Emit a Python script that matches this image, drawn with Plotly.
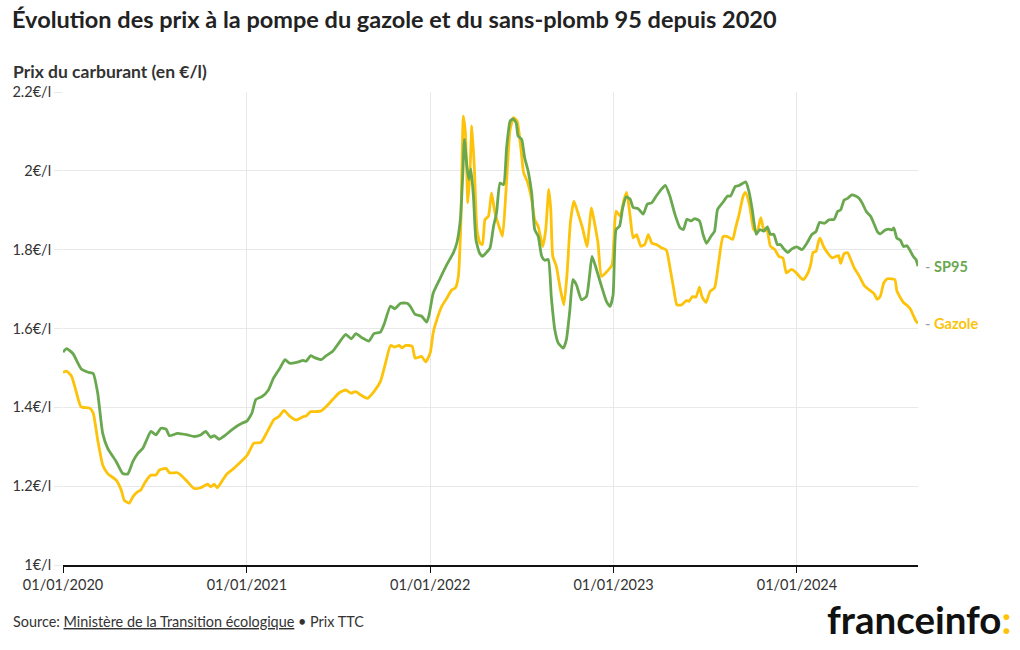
import plotly.graph_objects as go

# ---------------- data ----------------
sp95_dates = [
    "2020-01-01", "2020-01-08", "2020-01-21", "2020-02-06", "2020-02-20", "2020-03-01", "2020-03-10",
    "2020-03-20", "2020-03-30", "2020-04-16", "2020-04-29", "2020-05-09", "2020-05-19", "2020-05-29",
    "2020-06-08", "2020-06-14", "2020-06-24", "2020-07-04", "2020-07-14", "2020-07-24", "2020-07-31",
    "2020-08-16", "2020-09-05", "2020-09-18", "2020-10-01", "2020-10-11", "2020-10-21", "2020-10-28",
    "2020-11-07", "2020-11-20", "2020-12-04", "2020-12-23", "2021-01-01", "2021-01-11", "2021-01-19",
    "2021-01-31", "2021-02-13", "2021-02-23", "2021-03-08", "2021-03-18", "2021-03-27", "2021-04-10",
    "2021-04-23", "2021-04-29", "2021-05-08", "2021-05-16", "2021-05-29", "2021-06-08", "2021-06-21",
    "2021-07-04", "2021-07-17", "2021-07-28", "2021-08-06", "2021-08-19", "2021-09-01", "2021-09-11",
    "2021-09-24", "2021-10-01", "2021-10-14", "2021-10-22", "2021-11-03", "2021-11-16", "2021-11-22",
    "2021-12-02", "2021-12-15", "2021-12-25", "2021-12-30", "2022-01-07", "2022-01-21", "2022-02-03",
    "2022-02-16", "2022-02-23", "2022-03-02", "2022-03-07", "2022-03-10", "2022-03-15", "2022-03-19",
    "2022-03-23", "2022-03-28", "2022-04-02", "2022-04-09", "2022-04-15", "2022-04-23", "2022-04-30",
    "2022-05-07", "2022-05-13", "2022-05-20", "2022-05-27", "2022-06-02", "2022-06-09", "2022-06-15",
    "2022-06-21", "2022-06-25", "2022-07-02", "2022-07-08", "2022-07-15", "2022-07-22", "2022-07-28",
    "2022-08-04", "2022-08-11", "2022-08-17", "2022-08-24", "2022-08-30", "2022-09-06", "2022-09-13",
    "2022-09-23", "2022-09-29", "2022-10-06", "2022-10-12", "2022-10-19", "2022-10-29", "2022-11-08",
    "2022-11-14", "2022-11-19", "2022-11-26", "2022-12-08", "2022-12-18", "2022-12-25", "2022-12-31",
    "2023-01-06", "2023-01-13", "2023-01-19", "2023-01-26", "2023-02-03", "2023-02-09", "2023-02-19",
    "2023-03-01", "2023-03-09", "2023-03-18", "2023-03-27", "2023-04-06", "2023-04-14", "2023-04-23",
    "2023-05-03", "2023-05-13", "2023-05-20", "2023-05-27", "2023-06-05", "2023-06-11", "2023-06-21",
    "2023-06-28", "2023-07-05", "2023-07-14", "2023-07-21", "2023-07-27", "2023-08-06", "2023-08-16",
    "2023-08-22", "2023-08-31", "2023-09-08", "2023-09-21", "2023-09-28", "2023-10-04", "2023-10-12",
    "2023-10-19", "2023-10-27", "2023-11-03", "2023-11-09", "2023-11-16", "2023-11-23", "2023-11-29",
    "2023-12-06", "2023-12-14", "2023-12-22", "2024-01-01", "2024-01-11", "2024-01-21", "2024-01-31",
    "2024-02-08", "2024-02-15", "2024-02-25", "2024-03-05", "2024-03-15", "2024-03-22", "2024-03-28",
    "2024-04-04", "2024-04-11", "2024-04-19", "2024-04-27", "2024-05-04", "2024-05-10", "2024-05-18",
    "2024-05-27", "2024-06-02", "2024-06-09", "2024-06-15", "2024-06-24", "2024-07-02", "2024-07-08",
    "2024-07-12", "2024-07-18", "2024-07-25", "2024-07-31", "2024-08-07", "2024-08-14", "2024-08-20",
    "2024-08-25", "2024-08-29",
]
sp95_values = [
    1.540, 1.549, 1.536, 1.498, 1.489, 1.486, 1.437,
    1.334, 1.296, 1.262, 1.232, 1.231, 1.262, 1.283,
    1.296, 1.313, 1.339, 1.330, 1.347, 1.345, 1.328,
    1.334, 1.330, 1.326, 1.330, 1.339, 1.324, 1.328,
    1.319, 1.330, 1.345, 1.360, 1.365, 1.385, 1.420,
    1.427, 1.444, 1.474, 1.500, 1.521, 1.512, 1.514,
    1.519, 1.517, 1.531, 1.526, 1.521, 1.531, 1.542,
    1.565, 1.585, 1.574, 1.587, 1.576, 1.568, 1.587,
    1.591, 1.610, 1.657, 1.650, 1.664, 1.664, 1.657,
    1.636, 1.631, 1.616, 1.636, 1.690, 1.728, 1.762,
    1.792, 1.817, 1.876, 1.995, 2.080, 2.012, 1.978,
    2.005, 1.936, 1.825, 1.792, 1.783, 1.793, 1.804,
    1.859, 1.893, 1.969, 1.965, 2.058, 2.126, 2.132,
    2.122, 2.088, 2.080, 2.033, 1.999, 1.944, 1.851,
    1.834, 1.783, 1.773, 1.775, 1.681, 1.597, 1.563,
    1.550, 1.571, 1.647, 1.724, 1.711, 1.673, 1.681,
    1.732, 1.783, 1.758, 1.707, 1.668, 1.656, 1.685,
    1.851, 1.860, 1.905, 1.934, 1.928, 1.907, 1.904,
    1.890, 1.915, 1.919, 1.936, 1.953, 1.963, 1.936,
    1.890, 1.856, 1.851, 1.877, 1.873, 1.879, 1.873,
    1.839, 1.816, 1.834, 1.847, 1.902, 1.919, 1.936,
    1.936, 1.960, 1.963, 1.972, 1.945, 1.902, 1.839,
    1.851, 1.847, 1.858, 1.839, 1.839, 1.813, 1.813,
    1.802, 1.793, 1.802, 1.807, 1.800, 1.817, 1.839,
    1.846, 1.869, 1.867, 1.876, 1.877, 1.897, 1.901,
    1.926, 1.930, 1.939, 1.936, 1.930, 1.918, 1.897,
    1.884, 1.867, 1.846, 1.840, 1.849, 1.852, 1.850,
    1.855, 1.829, 1.824, 1.808, 1.810, 1.796, 1.782,
    1.775, 1.758,
]

gazole_dates = [
    "2020-01-01", "2020-01-08", "2020-01-18", "2020-01-27", "2020-02-06", "2020-02-23", "2020-03-01",
    "2020-03-10", "2020-03-20", "2020-03-30", "2020-04-16", "2020-04-26", "2020-05-02", "2020-05-12",
    "2020-05-19", "2020-05-29", "2020-06-04", "2020-06-11", "2020-06-24", "2020-07-04", "2020-07-11",
    "2020-07-24", "2020-07-31", "2020-08-16", "2020-08-26", "2020-09-05", "2020-09-18", "2020-10-01",
    "2020-10-15", "2020-10-21", "2020-10-28", "2020-11-03", "2020-11-13", "2020-11-23", "2020-12-06",
    "2020-12-20", "2021-01-02", "2021-01-15", "2021-01-29", "2021-02-11", "2021-02-24", "2021-03-06",
    "2021-03-16", "2021-03-27", "2021-04-10", "2021-04-23", "2021-04-29", "2021-05-08", "2021-05-16",
    "2021-05-29", "2021-06-08", "2021-06-21", "2021-07-04", "2021-07-17", "2021-07-27", "2021-08-06",
    "2021-08-16", "2021-08-29", "2021-09-11", "2021-09-24", "2021-10-04", "2021-10-14", "2021-10-22",
    "2021-10-31", "2021-11-06", "2021-11-13", "2021-11-26", "2021-12-02", "2021-12-15", "2021-12-23",
    "2022-01-01", "2022-01-07", "2022-01-14", "2022-01-24", "2022-02-03", "2022-02-13", "2022-02-20",
    "2022-02-26", "2022-03-03", "2022-03-08", "2022-03-12", "2022-03-17", "2022-03-21", "2022-03-25",
    "2022-03-30", "2022-04-04", "2022-04-10", "2022-04-15", "2022-04-20", "2022-04-27", "2022-05-03",
    "2022-05-10", "2022-05-20", "2022-05-25", "2022-06-01", "2022-06-09", "2022-06-16", "2022-06-23",
    "2022-06-30", "2022-07-06", "2022-07-13", "2022-07-22", "2022-07-28", "2022-08-04", "2022-08-13",
    "2022-08-19", "2022-08-25", "2022-08-29", "2022-09-02", "2022-09-09", "2022-09-16", "2022-09-24",
    "2022-09-30", "2022-10-07", "2022-10-14", "2022-10-22", "2022-11-01", "2022-11-09", "2022-11-18",
    "2022-11-24", "2022-12-01", "2022-12-08", "2022-12-19", "2022-12-29", "2023-01-02", "2023-01-06",
    "2023-01-14", "2023-01-22", "2023-01-27", "2023-02-03", "2023-02-09", "2023-02-16", "2023-02-24",
    "2023-03-04", "2023-03-11", "2023-03-18", "2023-03-27", "2023-04-06", "2023-04-16", "2023-04-24",
    "2023-05-01", "2023-05-07", "2023-05-16", "2023-05-26", "2023-05-31", "2023-06-07", "2023-06-14",
    "2023-06-21", "2023-06-26", "2023-07-04", "2023-07-12", "2023-07-21", "2023-07-29", "2023-08-07",
    "2023-08-16", "2023-08-26", "2023-09-01", "2023-09-08", "2023-09-16", "2023-09-21", "2023-09-29",
    "2023-10-07", "2023-10-14", "2023-10-21", "2023-10-27", "2023-11-03", "2023-11-09", "2023-11-18",
    "2023-11-26", "2023-12-04", "2023-12-11", "2023-12-21", "2023-12-31", "2024-01-08", "2024-01-14",
    "2024-01-23", "2024-01-29", "2024-02-02", "2024-02-08", "2024-02-13", "2024-02-16", "2024-02-23",
    "2024-03-02", "2024-03-11", "2024-03-19", "2024-03-24", "2024-03-28", "2024-04-04", "2024-04-11",
    "2024-04-17", "2024-04-24", "2024-05-04", "2024-05-14", "2024-05-23", "2024-06-02", "2024-06-09",
    "2024-06-15", "2024-06-22", "2024-06-29", "2024-07-07", "2024-07-14", "2024-07-18", "2024-07-25",
    "2024-07-31", "2024-08-07", "2024-08-14", "2024-08-20", "2024-08-25", "2024-08-29",
]
gazole_values = [
    1.488, 1.492, 1.479, 1.441, 1.401, 1.398, 1.386,
    1.318, 1.254, 1.232, 1.215, 1.190, 1.164, 1.157,
    1.173, 1.186, 1.190, 1.207, 1.228, 1.228, 1.241,
    1.245, 1.234, 1.234, 1.224, 1.211, 1.194, 1.196,
    1.205, 1.198, 1.205, 1.196, 1.214, 1.232, 1.245,
    1.262, 1.279, 1.309, 1.311, 1.339, 1.369, 1.377,
    1.392, 1.378, 1.368, 1.376, 1.378, 1.389, 1.389,
    1.391, 1.402, 1.420, 1.437, 1.444, 1.436, 1.440,
    1.431, 1.423, 1.440, 1.466, 1.512, 1.557, 1.553,
    1.557, 1.551, 1.557, 1.555, 1.525, 1.529, 1.515,
    1.538, 1.590, 1.622, 1.656, 1.677, 1.698, 1.703,
    1.732, 1.868, 2.139, 2.097, 1.919, 1.995, 2.114,
    2.003, 1.851, 1.817, 1.813, 1.876, 1.885, 1.944,
    1.893, 1.851, 1.834, 1.953, 2.105, 2.135, 2.126,
    2.063, 1.995, 1.974, 1.927, 1.876, 1.859, 1.808,
    1.851, 1.953, 1.902, 1.783, 1.758, 1.707, 1.660,
    1.732, 1.868, 1.923, 1.893, 1.851, 1.808, 1.906,
    1.868, 1.817, 1.732, 1.745, 1.762, 1.834, 1.898,
    1.885, 1.928, 1.945, 1.885, 1.830, 1.838, 1.809,
    1.813, 1.838, 1.817, 1.813, 1.805, 1.799, 1.749,
    1.698, 1.660, 1.660, 1.671, 1.669, 1.681, 1.680,
    1.705, 1.681, 1.666, 1.694, 1.703, 1.766, 1.833,
    1.833, 1.826, 1.856, 1.890, 1.936, 1.945, 1.911,
    1.851, 1.847, 1.881, 1.851, 1.847, 1.809, 1.800,
    1.783, 1.779, 1.741, 1.750, 1.741, 1.729, 1.724,
    1.741, 1.766, 1.793, 1.796, 1.821, 1.829, 1.808,
    1.792, 1.779, 1.783, 1.785, 1.765, 1.790, 1.792,
    1.775, 1.754, 1.733, 1.709, 1.699, 1.689, 1.674,
    1.682, 1.716, 1.726, 1.726, 1.724, 1.695, 1.678,
    1.666, 1.659, 1.649, 1.632, 1.619, 1.613,
]

series_names = ["SP95", "Gazole"]
x_tick_dates = ["2020-01-01", "2021-01-01", "2022-01-01", "2023-01-01", "2024-01-01"]
x_tick_labels = ["01/01/2020", "01/01/2021", "01/01/2022", "01/01/2023", "01/01/2024"]
y_tick_values = [1.0, 1.2, 1.4, 1.6, 1.8, 2.0, 2.2]
y_tick_labels = ["1€/l", "1.2€/l", "1.4€/l", "1.6€/l", "1.8€/l", "2€/l", "2.2€/l"]

# ---------------- styles ----------------
GREEN = "#6aa84f"
YELLOW = "#fcc30a"
FONT = "Lato, 'Open Sans', sans-serif"
GRID = "#e8e8e8"
TEXT = "#333333"

W, H = 1020, 650
ML, MR, MT, MB = 61, 102, 92, 85
PW, PH = W - ML - MR, H - MT - MB


def px_to_paper(px, py):
    """Convert a pixel position on the page into paper coordinates."""
    return (px - ML) / PW, (H - MB - py) / PH


fig = go.Figure()
fig.add_trace(go.Scatter(
    x=gazole_dates, y=gazole_values, name=series_names[1], mode="lines",
    line=dict(color=YELLOW, width=2.8, shape="spline", smoothing=0.5),
    hovertemplate="%{y:.3f} €/l<extra>Gazole</extra>",
))
fig.add_trace(go.Scatter(
    x=sp95_dates, y=sp95_values, name=series_names[0], mode="lines",
    line=dict(color=GREEN, width=2.8, shape="spline", smoothing=0.5),
    hovertemplate="%{y:.3f} €/l<extra>SP95</extra>",
))

# End labels
for name, dates, vals, col in [("SP95", sp95_dates, sp95_values, GREEN),
                               ("Gazole", gazole_dates, gazole_values, YELLOW)]:
    fig.add_annotation(
        x=dates[-1], y=vals[-1], xref="x", yref="y",
        text=f"<span style='color:#9a9a9a'>-</span> <b>{name}</b>",
        showarrow=False, xanchor="left", yanchor="middle", xshift=5,
        font=dict(family=FONT, size=14.5, color=col),
    )

fig.update_layout(
    width=W, height=H,
    paper_bgcolor="white", plot_bgcolor="white",
    margin=dict(l=ML, r=MR, t=MT, b=MB),
    showlegend=False,
    font=dict(family=FONT, size=14, color=TEXT),
    title=dict(
        text="<b>Évolution des prix à la pompe du gazole et du sans-plomb 95 depuis 2020</b>",
        x=12 / W, xref="container", xanchor="left",
        y=1 - 20 / H, yref="container", yanchor="middle",
        font=dict(family=FONT, size=23.5, color="#222222"),
    ),
)

fig.update_xaxes(
    type="date",
    range=[x_tick_dates[0], gazole_dates[-1]],
    tickvals=x_tick_dates, ticktext=x_tick_labels,
    showgrid=True, gridcolor=GRID, gridwidth=1,
    showline=True, linecolor="#111111", linewidth=1.5,
    ticks="outside", ticklen=6, tickcolor="#111111", tickwidth=1,
    tickfont=dict(family=FONT, size=14.5, color=TEXT),
    zeroline=False, fixedrange=True,
)
fig.update_yaxes(
    range=[1.0, 2.2],
    tickvals=y_tick_values, ticktext=y_tick_labels,
    showgrid=True, gridcolor=GRID, gridwidth=1,
    ticks="outside", ticklen=8, tickcolor=GRID,
    tickfont=dict(family=FONT, size=14.5, color=TEXT),
    zeroline=False, showline=False, fixedrange=True,
)

# Axis title (top-left)
ax, ay = px_to_paper(9, 72)
fig.add_annotation(
    x=ax, y=ay, xref="paper", yref="paper", text="<b>Prix du carburant (en €/l)</b>",
    showarrow=False, xanchor="left", yanchor="middle",
    font=dict(family=FONT, size=17.5, color=TEXT),
)

# Source
sx, sy = px_to_paper(9, 621)
fig.add_annotation(
    x=sx, y=sy, xref="paper", yref="paper",
    text="Source: <u>Ministère de la Transition écologique</u> • Prix TTC",
    showarrow=False, xanchor="left", yanchor="middle",
    font=dict(family=FONT, size=14.4, color=TEXT),
)
# Logo
lx, ly = px_to_paper(1013, 619)
fig.add_annotation(
    x=lx, y=ly, xref="paper", yref="paper",
    text="<b>franceinfo</b><b><span style='color:#fcc30a'>:</span></b>",
    showarrow=False, xanchor="right", yanchor="middle",
    font=dict(family=FONT, size=38.5, color="#111111"),
)

fig.write_html(
    "out.html",
    config={"displayModeBar": False},
    post_script="document.body.style.margin='0';",
)
